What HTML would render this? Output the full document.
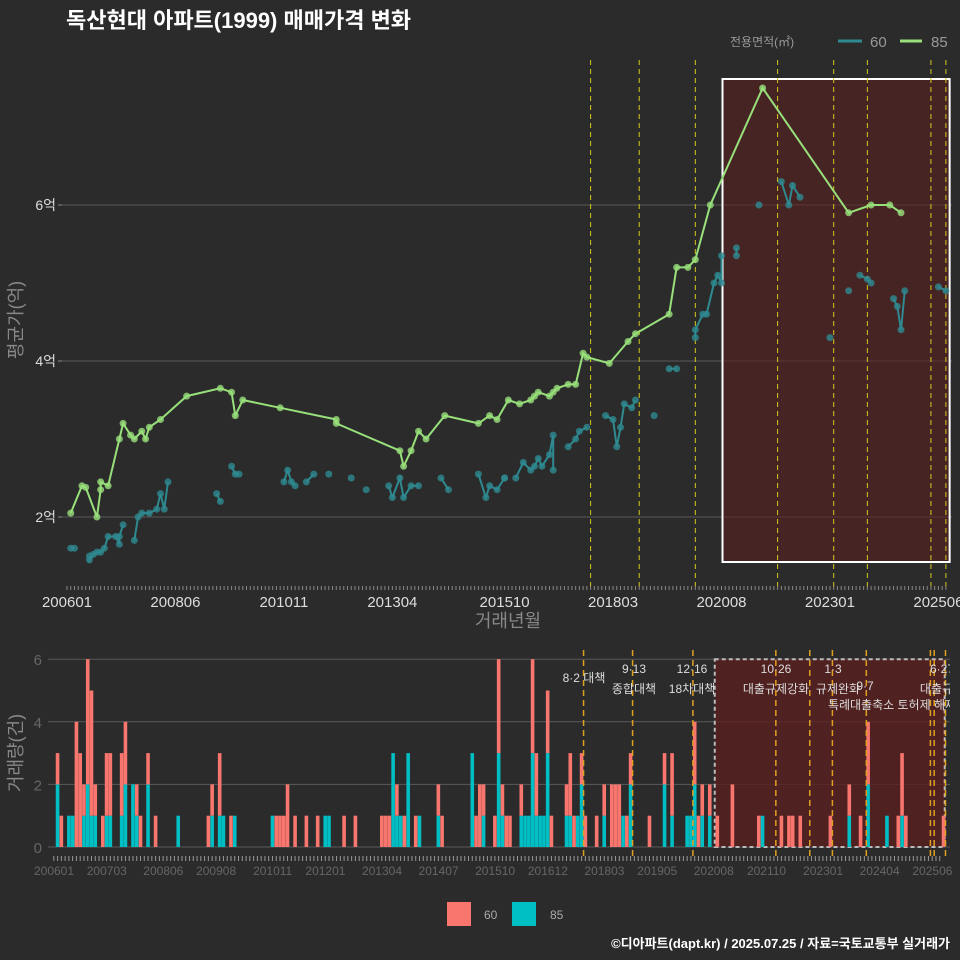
<!DOCTYPE html>
<html><head><meta charset="utf-8"><style>
body{margin:0;background:#2b2b2c;}
svg{display:block;font-family:"Liberation Sans","Noto Sans CJK KR",sans-serif;}
</style></head><body>
<svg id="c" width="960" height="960" viewBox="0 0 960 960">
<rect width="960" height="960" fill="#2b2b2c"/>
<text x="66" y="28" font-size="22" font-weight="bold" fill="#ffffff">독산현대 아파트(1999) 매매가격 변화</text>
<g>
<text x="730" y="46" font-size="12" fill="#999">전용면적(㎡)</text>
<line x1="838" y1="41" x2="862" y2="41" stroke="#2e8a90" stroke-width="3"/>
<text x="870" y="47" font-size="15" fill="#999">60</text>
<line x1="900" y1="41" x2="922" y2="41" stroke="#98e07a" stroke-width="3"/>
<text x="931" y="47" font-size="15" fill="#999">85</text>
</g>
<g id="topg"></g>
<g id="botg"></g>
<g>
<rect x="447" y="902" width="24" height="24" fill="#F8766D"/>
<text x="484" y="919" font-size="12" fill="#aaa">60</text>
<rect x="512" y="902" width="24" height="24" fill="#00BFC4"/>
<text x="550" y="919" font-size="12" fill="#aaa">85</text>
</g>
<text x="950" y="948" font-size="13" font-weight="bold" fill="#fff" text-anchor="end">©디아파트(dapt.kr) / 2025.07.25 / 자료=국토교통부 실거래가</text>
</svg>
<script>
// month index from 2006-01
const green85 = [[1,2.05],[4,2.4],[5,2.38],[8,2.0],[9,2.35],[9,2.45],[11,2.4],[14,3.0],[15,3.2],[17,3.05],[18,3.0],[20,3.1],[21,3.0],[22,3.15],[25,3.25],[32,3.55],[41,3.65],[44,3.6],[45,3.3],[47,3.5],[57,3.4],[72,3.25],[72,3.2],[89,2.85],[90,2.65],[92,2.85],[94,3.1],[96,3.0],[101,3.3],[110,3.2],[113,3.3],[115,3.25],[118,3.5],[121,3.45],[124,3.5],[125,3.55],[126,3.6],[129,3.55],[130,3.6],[131,3.65],[134,3.7],[136,3.7],[138,4.1],[139,4.05],[145,3.97],[150,4.25],[152,4.35],[161,4.6],[163,5.2],[166,5.2],[168,5.3],[172,6.0],[186,7.5],[209,5.9],[215,6.0],[220,6.0],[223,5.9]];
const blue60 = [[1,1.6],[2,1.6],[6,1.5],[6,1.45],[7,1.52],[8,1.55],[9,1.55],[10,1.6],[11,1.75],[13,1.75],[14,1.65],[14,1.75],[15,1.9],[18,1.7],[19,2.0],[20,2.05],[22,2.05],[24,2.1],[25,2.3],[26,2.1],[27,2.45],[40,2.3],[41,2.2],[44,2.65],[45,2.55],[46,2.55],[58,2.45],[59,2.6],[60,2.45],[61,2.4],[64,2.45],[66,2.55],[70,2.55],[76,2.5],[80,2.35],[86,2.4],[87,2.25],[89,2.5],[90,2.25],[92,2.4],[94,2.4],[100,2.5],[102,2.35],[110,2.55],[112,2.25],[113,2.4],[115,2.35],[117,2.5],[117,2.5],[120,2.5],[122,2.7],[124,2.6],[125,2.65],[126,2.75],[127,2.65],[129,2.8],[130,3.05],[130,2.6],[134,2.9],[136,3.0],[137,3.1],[139,3.15],[144,3.3],[146,3.25],[147,2.9],[148,3.15],[149,3.45],[151,3.4],[152,3.5],[157,3.3],[161,3.9],[163,3.9],[168,4.3],[168,4.4],[170,4.6],[171,4.6],[173,5.0],[174,5.1],[175,5.0],[175,5.35],[179,5.35],[179,5.45],[185,6.0],[191,6.3],[193,6.0],[194,6.25],[196,6.1],[204,4.3],[209,4.9],[212,5.1],[214,5.05],[215,5.0],[221,4.8],[222,4.7],[223,4.4],[224,4.9],[233,4.95],[235,4.9]];
const policyMonths = [140,153,168,190,205,214,231,235];
const botPolicyMonths = [141,154,170,192,201,207,216,233,234,237];
const topTickLabels = ["200601","200806","201011","201304","201510","201803","202008","202301","202506"];
const topTickMonths = [0,29,58,87,117,146,175,204,233];
const botTickLabels = ["200601","200703","200806","200908","201011","201201","201304","201407","201510","201612","201803","201905","202008","202110","202301","202404","202506"];
const botTickMonths = [0,14,29,43,58,72,87,102,117,131,146,160,175,189,204,219,233];
const yTopTicks = [2,4,6];
const yTopLabels = ["2억","4억","6억"];
const yBotTicks = [0,2,4,6];
const bars85 = [[1,2],[4,1],[5,1],[8,1],[9,2],[10,1],[11,1],[14,1],[15,1],[18,1],[19,2],[21,2],[22,1],[25,2],[33,1],[42,1],[44,1],[45,1],[48,1],[58,1],[72,1],[73,1],[90,3],[91,1],[92,1],[94,3],[97,1],[102,1],[111,3],[114,1],[118,3],[119,1],[124,1],[125,1],[126,1],[127,3],[128,1],[129,1],[130,1],[131,3],[136,1],[137,1],[139,1],[140,2],[146,1],[151,1],[153,2],[162,2],[164,1],[168,1],[169,1],[170,2],[172,1],[174,1],[188,1],[211,1],[216,2],[221,1],[225,1]];
const bars60 = [[1,1],[2,1],[6,4],[7,3],[8,1],[9,4],[10,4],[11,1],[13,1],[14,2],[15,2],[18,2],[19,2],[22,1],[23,1],[25,1],[27,1],[41,1],[42,1],[44,2],[47,1],[59,1],[60,1],[61,1],[62,2],[64,1],[67,1],[70,1],[77,1],[80,1],[87,1],[88,1],[89,1],[91,1],[93,1],[96,1],[102,1],[103,1],[112,1],[113,2],[114,1],[117,1],[118,3],[119,1],[120,1],[121,1],[124,1],[127,3],[128,2],[131,2],[132,1],[136,1],[137,2],[138,1],[140,1],[141,1],[144,1],[146,1],[148,2],[149,2],[150,2],[152,1],[153,1],[158,1],[162,1],[164,2],[170,2],[171,1],[172,1],[174,1],[176,1],[180,2],[187,1],[193,1],[195,1],[196,1],[198,1],[206,1],[211,1],[214,1],[216,2],[224,1],[225,2],[226,1],[236,1]];

const NS="http://www.w3.org/2000/svg";
function mk(tag,attrs,parent){const e=document.createElementNS(NS,tag);for(const k in attrs)e.setAttribute(k,attrs[k]);parent.appendChild(e);return e;}
const gTop=document.getElementById('topg'), gBot=document.getElementById('botg');
const tx=m=>67+m*3.74, ty=v=>517-(v-2)*78;
const bx=m=>52+m*3.77, by=v=>847-v*31.3;

yTopTicks.forEach((v,i)=>{
 let l=mk('line',{x1:62,x2:952,y1:ty(v),y2:ty(v),stroke:'#5a5a5a','stroke-width':1},gTop);
 
 
 let t=mk('text',{x:56,y:ty(v)+5,'font-size':14,fill:'#ddd','text-anchor':'end'},gTop);
 t.textContent=yTopLabels[i];
 
 
 mk('line',{x1:58,x2:62,y1:ty(v),y2:ty(v),stroke:'#888'},gTop);
});
let hb=mk('rect',{x:tx(175)+1,y:79,width:tx(236)-tx(175)-1,height:483,fill:'#5a1f1f','fill-opacity':0.6,stroke:'#fff','stroke-width':2},gTop);


policyMonths.forEach(m=>{
 let l=mk('line',{x1:tx(m),x2:tx(m),y1:60,y2:590,stroke:'#d4c81e','stroke-width':1,'stroke-dasharray':'5,4'},gTop);
 
 
});
for(let m=0;m<236;m++){mk('line',{x1:tx(m),x2:tx(m),y1:586,y2:590,stroke:'#888','stroke-width':1},gTop);}
topTickLabels.forEach((s,i)=>{
 let t=mk('text',{x:tx(topTickMonths[i]),y:607,'font-size':15,fill:'#ddd','text-anchor':'middle'},gTop);
 t.textContent=s;
 
 
});
let xt=mk('text',{x:508,y:627,'font-size':18,fill:'#888','text-anchor':'middle'},gTop);xt.textContent='거래년월';


let yt=mk('text',{x:0,y:0,'font-size':18,fill:'#888','text-anchor':'middle',transform:'translate(22,320) rotate(-90)'},gTop);yt.textContent='평균가(억)';


let d='';for(let i=0;i<blue60.length;i++){const [m,v]=blue60[i];const cont=i>0&&m-blue60[i-1][0]<=2;d+=(cont?'L':'M')+tx(m)+','+ty(v);}
let bl=mk('path',{d:d,fill:'none',stroke:'#2e8a90','stroke-width':2},gTop);


blue60.forEach(([m,v])=>{let c=mk('circle',{cx:tx(m),cy:ty(v),r:3.5,fill:'#2e8a90','fill-opacity':0.8},gTop);
 
 });
let g='';green85.forEach(([m,v],i)=>{g+=(i?'L':'M')+tx(m)+','+ty(v);});
let gl=mk('path',{d:g,fill:'none',stroke:'#98e07a','stroke-width':2},gTop);


green85.forEach(([m,v])=>{let c=mk('circle',{cx:tx(m),cy:ty(v),r:3.5,fill:'#98e07a','fill-opacity':0.8},gTop);
 
 });

yBotTicks.forEach(v=>{
 let l=mk('line',{x1:48,x2:950,y1:by(v),y2:by(v),stroke:'#5a5a5a'},gBot);
 
 
 let t=mk('text',{x:42,y:by(v)+6,'font-size':15,fill:'#666','text-anchor':'end'},gBot);t.textContent=v;
 
 
});
let hb2=mk('rect',{x:bx(175)+3,y:by(6),width:bx(236)-bx(175),height:by(0)-by(6),fill:'#5a1f1f','fill-opacity':0.8,stroke:'#bbb','stroke-width':2,'stroke-dasharray':'4,3'},gBot);


const bw=3.6;
const c85={};bars85.forEach(([m,n])=>{c85[m]=n;
 let r=mk('rect',{x:bx(m),y:by(n),width:bw,height:by(0)-by(n),fill:'#00BFC4'},gBot);
 
 });
bars60.forEach(([m,n])=>{const b=c85[m]||0;
 let r=mk('rect',{x:bx(m),y:by(b+n),width:bw,height:by(b)-by(b+n),fill:'#F8766D'},gBot);
 
 });
botPolicyMonths.forEach(m=>{
 let l=mk('line',{x1:bx(m),x2:bx(m),y1:650,y2:858,stroke:'#e0a020','stroke-width':1.5,'stroke-dasharray':'6,4'},gBot);
 
 
});
const notes=[["8·2 대책",584,682],["9·13",634,673],["종합대책",634,693],["12·16",692,673],["18차대책",692,693],["10·26",776,673],["대출규제강화",776,693],["1·3",833,673],["규제완화",838,693],["9·7",865,690],["특례대출축소 토허제 해제",892,709],["6·27",942,673],["대출규제",942,693]];
notes.forEach(([s,x,y])=>{let t=mk('text',{x:x,y:y,'font-size':12,fill:'#ddd','text-anchor':'middle'},gBot);t.textContent=s;
 
 });
mk('rect',{x:950,y:640,width:10,height:100,fill:'#2b2b2c'},gBot);
for(let m=0;m<236;m++){mk('line',{x1:bx(m)+1.8,x2:bx(m)+1.8,y1:856,y2:861,stroke:'#999','stroke-width':1},gBot);}
botTickLabels.forEach((s,i)=>{
 let t=mk('text',{x:bx(botTickMonths[i])+2,y:875,'font-size':12,fill:'#666','text-anchor':'middle'},gBot);t.textContent=s;
 
 
});
let yb=mk('text',{x:0,y:0,'font-size':18,fill:'#888','text-anchor':'middle',transform:'translate(22,753) rotate(-90)'},gBot);yb.textContent='거래량(건)';


</script>
</body></html>
